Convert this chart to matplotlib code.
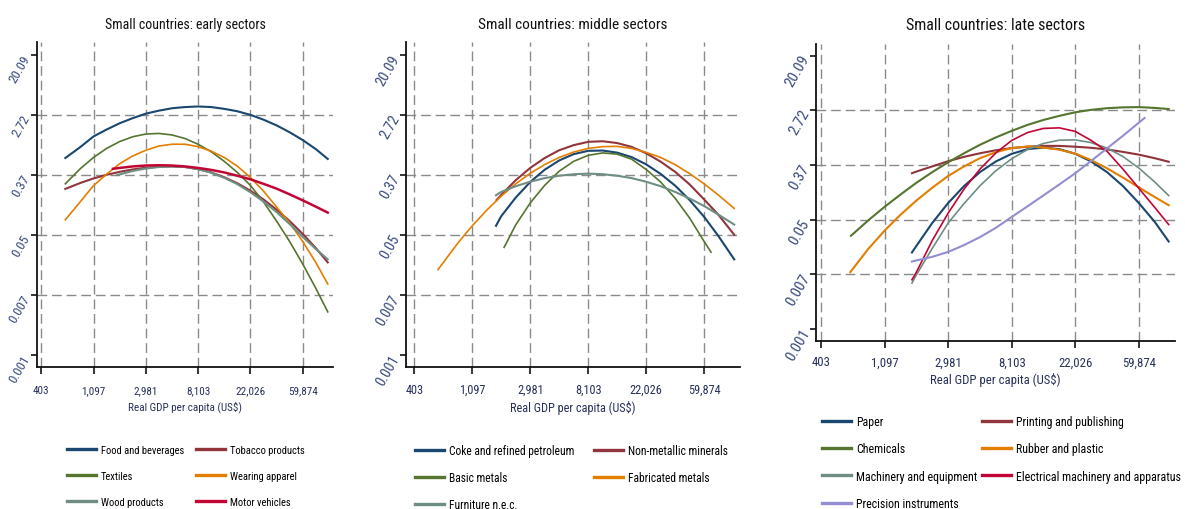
import matplotlib
matplotlib.use('Agg')
import matplotlib.pyplot as plt
from matplotlib import font_manager

# pick a condensed face if there is one, the original uses Arial Narrow
installed = {f.name for f in font_manager.fontManager.ttflist}
face = 'Liberation Sans'
for cand in ['Liberation Sans Narrow', 'Arial Narrow', 'Roboto Condensed', 'Open Sans Condensed']:
    if cand in installed:
        face = cand
        break
plt.rcParams['font.family'] = [face, 'DejaVu Sans']

# axes are ln(GDP per capita) and ln(share); labels show the exp values
x_ticks = [6, 7, 8, 9, 10, 11]
x_labels = ['403', '1,097', '2,981', '8,103', '22,026', '59,874']
y_ticks = [-7, -5, -3, -1, 1, 3]
y_labels = ['0.001', '0.007', '0.05', '0.37', '2.72', '20.09']

# common ln(GDP) reading points
grid_a = [6.46, 6.75, 7, 7.25, 7.5, 7.75, 8, 8.25, 8.5, 8.75, 9, 9.25, 9.5, 9.75,
          10, 10.25, 10.5, 10.75, 11, 11.25, 11.48]

# ---- early sectors ----
food_x = grid_a
food_y = [-0.42, -0.05, 0.30, 0.53, 0.74, 0.91, 1.06, 1.16, 1.24, 1.28, 1.30, 1.28, 1.22,
          1.14, 1.02, 0.86, 0.67, 0.44, 0.18, -0.12, -0.45]
tobacco_x = grid_a
tobacco_y = [-1.45, -1.25, -1.10, -0.98, -0.88, -0.80, -0.745, -0.71, -0.70, -0.72, -0.79,
             -0.90, -1.06, -1.26, -1.51, -1.80, -2.14, -2.52, -2.95, -3.42, -3.90]
textiles_x = grid_a
textiles_y = [-1.28, -0.77, -0.40, -0.10, 0.13, 0.29, 0.38, 0.40, 0.35, 0.23, 0.04, -0.21,
              -0.53, -0.90, -1.33, -1.88, -2.52, -3.20, -3.95, -4.76, -5.55]
apparel_x = grid_a
apparel_y = [-2.48, -1.87, -1.34, -0.96, -0.61, -0.35, -0.16, -0.02, 0.04, 0.04, -0.04,
             -0.19, -0.40, -0.69, -1.07, -1.52, -2.05, -2.58, -3.20, -3.90, -4.62]
wood_x = [7.45, 7.75, 8, 8.25, 8.5, 8.75, 9, 9.25, 9.5, 9.75, 10, 10.25, 10.5, 10.75,
          11, 11.25, 11.48]
wood_y = [-0.99, -0.85, -0.77, -0.72, -0.70, -0.72, -0.79, -0.91, -1.08, -1.29, -1.56,
          -1.87, -2.22, -2.62, -3.05, -3.45, -3.80]
motor_x = [7.37, 7.5, 7.75, 8, 8.25, 8.5, 8.75, 9, 9.25, 9.5, 9.75, 10, 10.25, 10.5,
           10.75, 11, 11.25, 11.48]
motor_y = [-0.78, -0.75, -0.70, -0.67, -0.66, -0.67, -0.70, -0.75, -0.815, -0.90, -1.01,
           -1.13, -1.28, -1.44, -1.63, -1.83, -2.04, -2.24]

# ---- middle sectors ----
coke_x = [7.41, 7.5, 7.75, 8, 8.25, 8.5, 8.75, 9, 9.25, 9.5, 9.75, 10, 10.25, 10.5,
          10.75, 11, 11.25, 11.52]
coke_y = [-2.68, -2.36, -1.74, -1.22, -0.81, -0.50, -0.29, -0.18, -0.17, -0.24, -0.39,
          -0.63, -0.95, -1.34, -1.82, -2.38, -3.03, -3.80]
nonmet_x = [7.42, 7.5, 7.75, 8, 8.25, 8.5, 8.75, 9, 9.25, 9.5, 9.75, 10, 10.25, 10.5,
            10.75, 11, 11.25, 11.52]
nonmet_y = [-1.82, -1.65, -1.16, -0.75, -0.42, -0.16, 0.01, 0.12, 0.14, 0.08, -0.05,
            -0.26, -0.54, -0.88, -1.30, -1.80, -2.32, -2.98]
basic_x = [7.55, 7.75, 8, 8.25, 8.5, 8.75, 9, 9.25, 9.5, 9.75, 10, 10.25, 10.5, 10.75,
           11, 11.12]
basic_y = [-3.40, -2.65, -1.92, -1.33, -0.86, -0.53, -0.33, -0.25, -0.29, -0.46, -0.80,
           -1.22, -1.76, -2.42, -3.20, -3.56]
fabric_x = [6.41, 6.75, 7, 7.25, 7.5, 7.75, 8, 8.25, 8.5, 8.75, 9, 9.25, 9.5, 9.75, 10,
            10.25, 10.5, 10.75, 11, 11.25, 11.52]
fabric_y = [-4.14, -3.26, -2.68, -2.16, -1.69, -1.28, -0.93, -0.64, -0.40, -0.22, -0.10,
            -0.04, -0.03, -0.10, -0.23, -0.40, -0.64, -0.94, -1.28, -1.66, -2.10]
furniture_x = [7.41, 7.5, 7.75, 8, 8.25, 8.5, 8.75, 9, 9.25, 9.5, 9.75, 10, 10.25, 10.5,
               10.75, 11, 11.25, 11.52]
furniture_y = [-1.66, -1.55, -1.36, -1.21, -1.09, -1.01, -0.96, -0.94, -0.96, -1.01,
               -1.09, -1.21, -1.36, -1.55, -1.77, -2.02, -2.31, -2.64]

# ---- late sectors ----
grid_c = [7.43, 7.5, 7.75, 8, 8.25, 8.5, 8.75, 9, 9.25, 9.5, 9.75, 10, 10.25, 10.5,
          10.75, 11, 11.25, 11.47]
paper_x = grid_c
paper_y = [-4.20, -3.96, -3.12, -2.39, -1.77, -1.26, -0.87, -0.59, -0.42, -0.36, -0.42,
           -0.59, -0.87, -1.26, -1.77, -2.39, -3.08, -3.80]
printing_x = grid_c
printing_y = [-1.30, -1.24, -1.05, -0.86, -0.70, -0.57, -0.46, -0.38, -0.33, -0.30, -0.30,
              -0.33, -0.37, -0.43, -0.52, -0.62, -0.75, -0.88]
chem_x = [6.47, 6.75, 7, 7.25, 7.5, 7.75, 8, 8.25, 8.5, 8.75, 9, 9.25, 9.5, 9.75, 10,
          10.25, 10.5, 10.75, 11, 11.25, 11.47]
chem_y = [-3.59, -3.01, -2.53, -2.08, -1.65, -1.26, -0.90, -0.57, -0.26, 0.01, 0.25, 0.47,
          0.65, 0.80, 0.93, 1.02, 1.08, 1.11, 1.12, 1.09, 1.05]
rubber_x = [6.46, 6.75, 7, 7.25, 7.5, 7.75, 8, 8.25, 8.5, 8.75, 9, 9.25, 9.5, 9.75, 10,
            10.25, 10.5, 10.75, 11, 11.25, 11.47]
rubber_y = [-4.92, -4.05, -3.40, -2.82, -2.30, -1.83, -1.40, -1.05, -0.75, -0.53, -0.38,
            -0.32, -0.36, -0.44, -0.58, -0.82, -1.12, -1.46, -1.82, -2.17, -2.47]
machinery_x = grid_c
machinery_y = [-5.32, -5.02, -4.05, -3.12, -2.41, -1.76, -1.21, -0.77, -0.43, -0.21, -0.09,
               -0.08, -0.18, -0.38, -0.69, -1.11, -1.62, -2.12]
electrical_x = grid_c
electrical_y = [-5.20, -4.92, -3.76, -2.76, -1.88, -1.15, -0.56, -0.10, 0.19, 0.34, 0.36,
                0.23, -0.10, -0.50, -1.15, -1.85, -2.55, -3.18]
precision_x = [7.43, 7.75, 8, 8.25, 8.5, 8.75, 9, 9.25, 9.5, 9.75, 10, 10.25, 10.5,
               10.75, 11, 11.09]
precision_y = [-4.53, -4.36, -4.18, -3.93, -3.64, -3.30, -2.90, -2.51, -2.11, -1.71,
               -1.30, -0.85, -0.39, 0.07, 0.55, 0.72]

# stata s2color
navy, maroon, green, orange = '#1a476f', '#90353b', '#55752f', '#e37e00'
teal, cranberry, lavender = '#6e8e84', '#c10534', '#938dd2'

# the three stata graphs were combined at slightly different text scales
panels = [
    dict(title='Small countries: early sectors', scale=1.0, leg_fs=7.6, leg_ls=1.5,
         rect=[0.0312, 0.2784, 0.2498, 0.6373], xlim=(5.918, 11.58), ylim=(-7.39, 3.45),
         series=[('Food and beverages', food_x, food_y, navy, 1.5),
                 ('Tobacco products', tobacco_x, tobacco_y, maroon, 1.5),
                 ('Textiles', textiles_x, textiles_y, green, 1.2),
                 ('Wearing apparel', apparel_x, apparel_y, orange, 1.2),
                 ('Wood products', wood_x, wood_y, teal, 1.5),
                 ('Motor vehicles', motor_x, motor_y, cranberry, 1.8)],
         leg_x=(67, 196), leg_top=446),
    dict(title='Small countries: middle sectors', scale=1.1, leg_fs=8.3, leg_ls=1.2,
         rect=[0.3426, 0.2784, 0.2819, 0.6373], xlim=(5.857, 11.62), ylim=(-7.39, 3.45),
         series=[('Coke and refined petroleum', coke_x, coke_y, navy, 1.5),
                 ('Non-metallic minerals', nonmet_x, nonmet_y, maroon, 1.5),
                 ('Basic metals', basic_x, basic_y, green, 1.2),
                 ('Fabricated metals', fabric_x, fabric_y, orange, 1.2),
                 ('Furniture n.e.c.', furniture_x, furniture_y, teal, 1.5)],
         leg_x=(415, 594), leg_top=445),
    dict(title='Small countries: late sectors', scale=1.15, leg_fs=8.6, leg_ls=1.2,
         rect=[0.6886, 0.33, 0.3030, 0.5818], xlim=(5.92, 11.57), ylim=(-7.43, 3.43),
         series=[('Paper', paper_x, paper_y, navy, 1.5),
                 ('Printing and publishing', printing_x, printing_y, maroon, 1.5),
                 ('Chemicals', chem_x, chem_y, green, 1.5),
                 ('Rubber and plastic', rubber_x, rubber_y, orange, 1.5),
                 ('Machinery and equipment', machinery_x, machinery_y, teal, 1.2),
                 ('Electrical machinery and apparatus', electrical_x, electrical_y, cranberry, 1.2),
                 ('Precision instruments', precision_x, precision_y, lavender, 1.5)],
         leg_x=(822, 982), leg_top=416),
]

W, H = 1185, 510
fig = plt.figure(figsize=(W / 100, H / 100), dpi=100)
fig.patch.set_facecolor('white')
label_col = '#27305a'

for p in panels:
    s = p['scale']
    ax = fig.add_axes(p['rect'])
    ax.set_xlim(*p['xlim'])
    ax.set_ylim(*p['ylim'])

    # dashed grid: every x tick, inner y ticks only
    for xv in x_ticks:
        ax.axvline(xv, color='#8a8a8a', lw=1.0, dashes=(7, 3.5), zorder=1)
    for yv in y_ticks[1:-1]:
        ax.axhline(yv, color='#8a8a8a', lw=1.0, dashes=(7, 3.5), zorder=1)

    handles = []
    for name, xs, ys, col, lw in p['series']:
        ln, = ax.plot(xs, ys, color=col, lw=lw, label=name, zorder=3,
                      solid_joinstyle='round')
        handles.append(ln)

    for side in ['top', 'right']:
        ax.spines[side].set_visible(False)
    for side in ['left', 'bottom']:
        ax.spines[side].set_linewidth(1.3)
        ax.spines[side].set_color('#111111')

    ax.set_xticks(x_ticks)
    ax.set_xticklabels(x_labels, fontsize=8 * s, color=label_col)
    ax.set_yticks(y_ticks)
    ax.set_yticklabels(y_labels, fontsize=9.5 * s, color='#3a4a80', rotation=60,
                       rotation_mode='anchor', ha='right', va='center')
    ax.tick_params(axis='x', length=5, width=1.1, pad=8 - 2 * (s - 1) * 8)
    ax.tick_params(axis='y', length=4, width=1.1, pad=3)
    ax.set_xlabel('Real GDP per capita (US$)', fontsize=8 * s, color=label_col,
                  labelpad=4 - 10 * (s - 1))

    box = ax.get_position()
    fig.text(box.x0 + box.width / 2, 1 - 25 / H, p['title'], fontsize=10 * s,
             color='#111111', ha='center', va='center')

    # two single-column legends so the columns sit where Stata put them
    col1 = handles[0::2]
    col2 = handles[1::2]
    legs = []
    for hs, lx in zip([col1, col2], p['leg_x']):
        leg = ax.legend(hs, [h.get_label() for h in hs], loc='upper left',
                        bbox_to_anchor=(lx / W, 1 - p['leg_top'] / H),
                        bbox_transform=fig.transFigure, frameon=False,
                        borderpad=0, borderaxespad=0, handlelength=2.6 * 8 / p['leg_fs'],
                        handletextpad=0.45 * 8 / p['leg_fs'], labelspacing=p['leg_ls'],
                        fontsize=p['leg_fs'])
        for h in leg.get_lines():
            h.set_linewidth(2.4)
        legs.append(leg)
    ax.add_artist(legs[0])

fig.savefig('out.png', dpi=100, facecolor='white')
